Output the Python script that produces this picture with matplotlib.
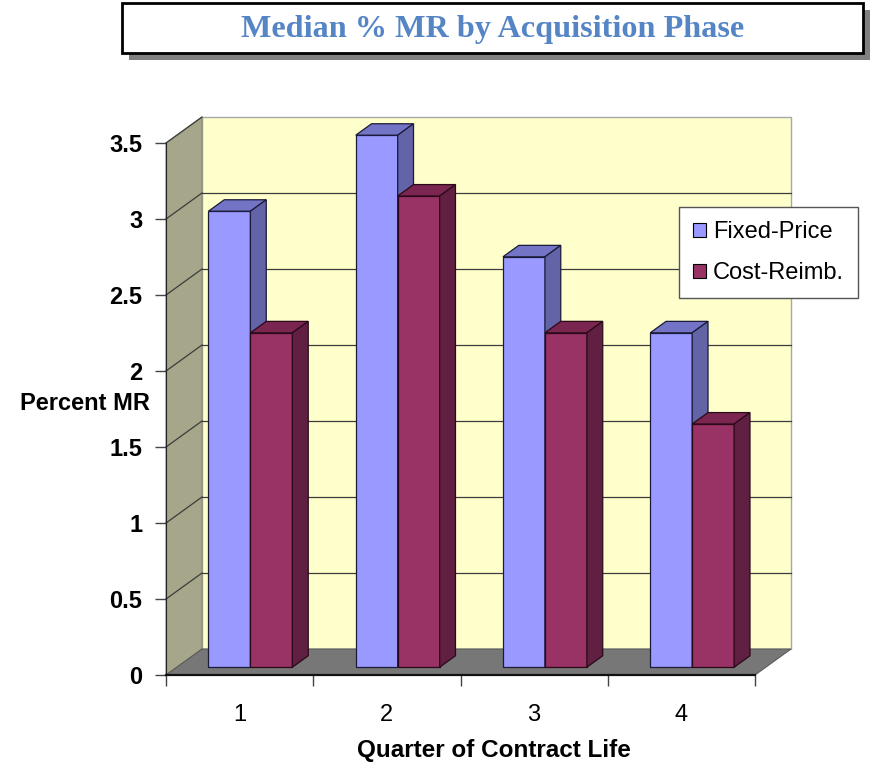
import matplotlib
matplotlib.use("Agg")
import matplotlib.pyplot as plt
from matplotlib.patches import Polygon, Rectangle, Patch

# data
quarters = ["1", "2", "3", "4"]
fixed_price = [3.0, 3.5, 2.7, 2.2]
cost_reimb = [2.2, 3.1, 2.2, 1.6]
series_names = ["Fixed-Price", "Cost-Reimb."]
y_ticks = [0, 0.5, 1, 1.5, 2, 2.5, 3, 3.5]

# face colours: front, top, side
fixed_cols = ("#9999ff", "#7474c6", "#6363a8")
cost_cols = ("#993366", "#7a2650", "#611f42")

W, H = 876, 765
fig = plt.figure(figsize=(W / 100, H / 100), dpi=100)
ax = fig.add_axes([166 / W, 1 - 675 / H, 589 / W, 532 / H])
ax.set_xlim(0, len(quarters))
ax.set_ylim(0, 3.5)

# pixel size of one data unit, used to fake the depth direction
ux = 589 / len(quarters)
uy = 532 / 3.5
DX, DY = 36 / ux, 26 / uy
ymax = 3.5
nq = len(quarters)


def poly(pts, fc, ec="none", lw=0.8, z=1):
    ax.add_patch(Polygon(pts, closed=True, facecolor=fc, edgecolor=ec,
                         linewidth=lw, zorder=z, clip_on=False))


# back wall, side wall and floor
poly([(DX, DY), (nq + DX, DY), (nq + DX, ymax + DY), (DX, ymax + DY)],
     "#ffffcc", ec="#a8a8a8", lw=1.0, z=1)
poly([(0, 0), (DX, DY), (DX, ymax + DY), (0, ymax)], "#a6a68a",
     ec="#8a8a70", lw=0.8, z=1)
poly([(0, 0), (nq, 0), (nq + DX, DY), (DX, DY)], "#777777",
     ec="#5a5a5a", lw=0.8, z=2)

# gridlines on the walls
for v in y_ticks[1:-1]:
    ax.plot([DX, nq + DX], [v + DY, v + DY], color="#3c3c3c", lw=0.9,
            zorder=2, clip_on=False)
for v in y_ticks[1:]:
    ax.plot([0, DX], [v, v + DY], color="#3c3c3c", lw=0.9, zorder=2,
            clip_on=False)

# 3d-looking bars
bw = 0.285
start = 0.215
z0, bz = 0.3, 0.44
for i in range(nq):
    for s, (vals, cols) in enumerate([(fixed_price, fixed_cols),
                                      (cost_reimb, cost_cols)]):
        v = vals[i]
        x0 = i + start + s * bw + z0 * DX
        y0 = z0 * DY
        ddx, ddy = bz * DX, bz * DY
        edge = "#1a1a3a" if s == 0 else "#2a0a18"
        z = 3 + i * 2 + s
        ax.add_patch(Rectangle((x0, y0), bw, v, facecolor=cols[0],
                               edgecolor=edge, linewidth=0.9, zorder=z,
                               clip_on=False))
        poly([(x0, y0 + v), (x0 + bw, y0 + v), (x0 + bw + ddx, y0 + v + ddy),
              (x0 + ddx, y0 + v + ddy)], cols[1], ec=edge, lw=0.9, z=z)
        poly([(x0 + bw, y0), (x0 + bw + ddx, y0 + ddy),
              (x0 + bw + ddx, y0 + v + ddy), (x0 + bw, y0 + v)], cols[2],
             ec=edge, lw=0.9, z=z)

# axes
for side in ("top", "right"):
    ax.spines[side].set_visible(False)
ax.spines["left"].set_color("#222222")
ax.spines["bottom"].set_color("#111111")
ax.spines["bottom"].set_linewidth(1.6)
ax.spines["left"].set_zorder(20)
ax.spines["bottom"].set_zorder(20)
ax.set_facecolor("none")

ax.set_yticks(y_ticks)
ax.set_yticklabels([f"{t:g}" for t in y_ticks], fontsize=17,
                   fontweight="bold", family="Liberation Sans")
ax.tick_params(axis="y", length=8, width=1, color="#444444", pad=9)

ax.set_xticks(range(nq + 1))
ax.set_xticklabels([])
ax.set_xticks([i + 0.5 for i in range(nq)], minor=True)
ax.set_xticklabels(quarters, minor=True, fontsize=17, family="Liberation Sans")
ax.tick_params(axis="x", which="major", length=8, width=1, color="#444444")
ax.tick_params(axis="x", which="minor", length=0, pad=21)

ax.set_ylabel("Percent MR", rotation=0, fontsize=17, fontweight="bold",
              family="Liberation Sans", ha="right", va="center")
ax.yaxis.set_label_coords((150 - 166) / 589, (675 - 404) / 532)
ax.set_xlabel("Quarter of Contract Life", fontsize=17.5, fontweight="bold",
              family="Liberation Sans", va="center")
ax.xaxis.set_label_coords((494 - 166) / 589, (675 - 750) / 532)

# legend
handles = [Patch(facecolor=fixed_cols[0], edgecolor="black", lw=0.8),
           Patch(facecolor=cost_cols[0], edgecolor="black", lw=0.8)]
leg = ax.legend(handles, series_names, loc="upper left",
                bbox_to_anchor=(679 / W, 1 - 207 / H),
                bbox_transform=fig.transFigure, borderaxespad=0,
                fancybox=False, framealpha=1, edgecolor="#555555",
                prop={"family": "Liberation Sans", "size": 17},
                handlelength=0.55, handleheight=0.55, handletextpad=0.3,
                labelspacing=0.8, borderpad=0.6)
leg.get_frame().set_linewidth(1.0)
leg.set_zorder(30)

# title box with drop shadow
fig.add_artist(Rectangle((129 / W, 1 - 60 / H), 741 / W, 50 / H,
                         transform=fig.transFigure, facecolor="#808080",
                         edgecolor="none"))
fig.add_artist(Rectangle((122 / W, 1 - 53 / H), 741 / W, 50 / H,
                         transform=fig.transFigure, facecolor="white",
                         edgecolor="black", linewidth=2))
fig.text(493 / W, 1 - 29 / H, "Median % MR by Acquisition Phase",
         ha="center", va="center", fontsize=23.2, fontweight="bold",
         family="Liberation Serif", color="#5585c5")

fig.savefig("out.png", dpi=100)
